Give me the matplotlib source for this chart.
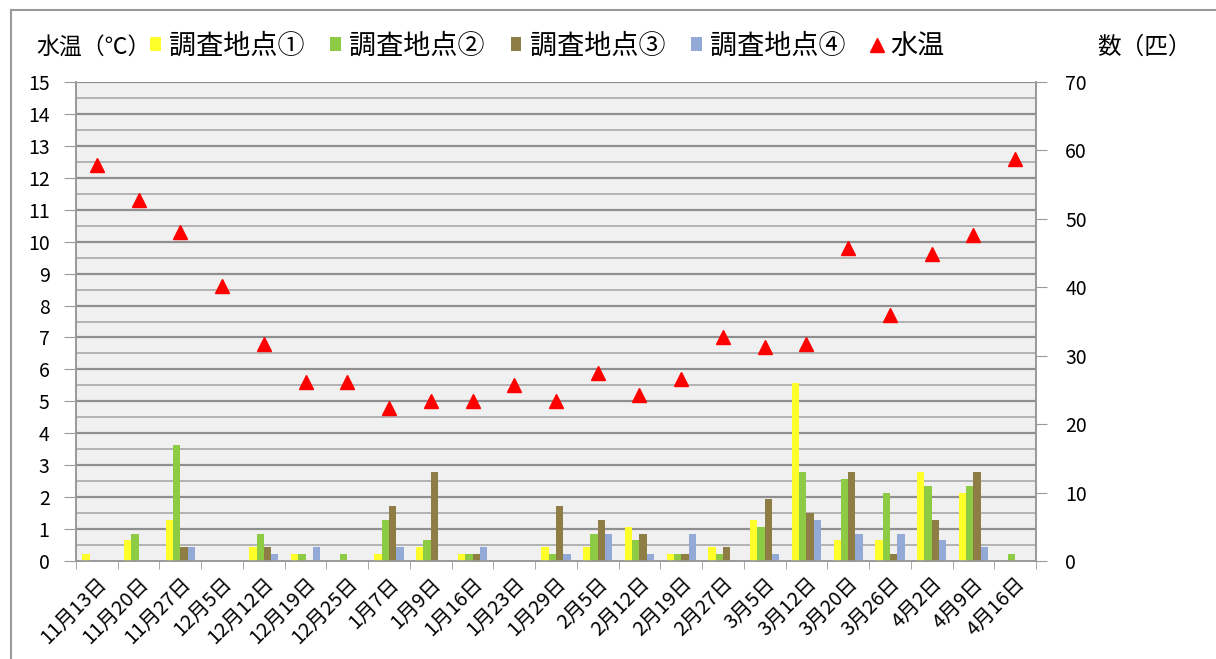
import matplotlib
matplotlib.use("Agg")
import matplotlib.pyplot as plt
import numpy as np
from matplotlib.lines import Line2D
from matplotlib.patches import Patch

plt.rcParams['font.family'] = ['Noto Sans CJK JP', 'DejaVu Sans']

# survey dates
dates = ["11月13日", "11月20日", "11月27日", "12月5日", "12月12日", "12月19日",
         "12月25日", "1月7日", "1月9日", "1月16日", "1月23日", "1月29日",
         "2月5日", "2月12日", "2月19日", "2月27日", "3月5日", "3月12日",
         "3月20日", "3月26日", "4月2日", "4月9日", "4月16日"]

# counts (匹) at each survey point
site1 = [1, 3, 6, 0, 2, 1, 0, 1, 2, 1, 0, 2, 2, 5, 1, 2, 6, 26, 3, 3, 13, 10, 0]
site2 = [0, 4, 17, 0, 4, 1, 1, 6, 3, 1, 0, 1, 4, 3, 1, 1, 5, 13, 12, 10, 11, 11, 1]
site3 = [0, 0, 2, 0, 2, 0, 0, 8, 13, 1, 0, 8, 6, 4, 1, 2, 9, 7, 13, 1, 6, 13, 0]
site4 = [0, 0, 2, 0, 1, 2, 0, 2, 0, 2, 0, 1, 4, 1, 4, 0, 1, 6, 4, 4, 3, 2, 0]

# water temperature (℃)
water_temp = [12.4, 11.3, 10.3, 8.6, 6.8, 5.6, 5.6, 4.8, 5.0, 5.0, 5.5, 5.0,
              5.9, 5.2, 5.7, 7.0, 6.7, 6.8, 9.8, 7.7, 9.6, 10.2, 12.6]

series_names = ["調査地点①", "調査地点②", "調査地点③", "調査地点④"]
series_colors = ["#FFFF2A", "#8DCB45", "#8E7E45", "#94AAD6"]
temp_color = "#FF0000"

fig = plt.figure(figsize=(12.16, 6.59), dpi=100)
fig.patch.set_facecolor("white")

# outer frame
fig.add_artist(plt.Line2D([11/1216, 11/1216], [0, 1 - 10/659], color="#9a9a9a", lw=1.5,
                          transform=fig.transFigure))
fig.add_artist(plt.Line2D([11/1216, 1.0], [1 - 10/659, 1 - 10/659], color="#9a9a9a", lw=1.5,
                          transform=fig.transFigure))

ax = fig.add_axes([76/1216, 1 - 561/659, (1036 - 76)/1216, (561 - 82)/659])
ax2 = ax.twinx()

n = len(dates)
x = np.arange(n)
bw = 0.175
offsets = (np.arange(4) - 1.5) * bw
for vals, col, off in zip([site1, site2, site3, site4], series_colors, offsets):
    ax2.bar(x + off, vals, width=bw, color=col, edgecolor="none", zorder=3)

ax.plot(x, water_temp, linestyle="none", marker="^", markersize=10,
        color=temp_color, markeredgecolor=temp_color, zorder=5)
ax.set_zorder(ax2.get_zorder() + 1)
ax.patch.set_visible(False)
ax2.patch.set_visible(True)
ax2.patch.set_facecolor("#F0F0F0")

ax.set_xlim(-0.5, n - 0.5)
ax.set_ylim(0, 15)
ax2.set_ylim(0, 70)

# gridlines every 0.5 ℃
for v in np.arange(0.5, 15.01, 0.5):
    major = abs(v - round(v)) < 1e-9
    ax2.axhline(v * 70 / 15, color="#8f8f8f" if major else "#a8a8a8",
                lw=1.6 if major else 1.2, zorder=1)

ax.set_yticks(np.arange(0, 16, 1))
ax2.set_yticks(np.arange(0, 71, 10))
ax.set_xticks(x)
ax.set_xticklabels(dates, rotation=45, ha="right", rotation_mode="anchor", fontsize=14.5)
ax.set_xticks(np.arange(-0.5, n, 1), minor=True)
ax.tick_params(axis="x", which="major", length=0, pad=9)
ax.tick_params(axis="x", which="minor", length=6, color="#999999", direction="out")
ax.tick_params(axis="y", labelsize=14, length=9, color="#999999", pad=10)
ax2.tick_params(axis="y", labelsize=14, length=8, color="#999999", pad=13)

for a in (ax, ax2):
    for s in a.spines.values():
        s.set_color("#999999")
        s.set_linewidth(1.2)
    a.spines["top"].set_visible(False)

# axis titles
fig.text(36/1216, 1 - 47/659, "水温（℃）", fontsize=16.5, va="center", ha="left")
fig.text(1097/1216, 1 - 47/659, "数（匹）", fontsize=17, va="center", ha="left")

handles = [Patch(facecolor=c, edgecolor="none") for c in series_colors]
handles.append(Line2D([], [], linestyle="none", marker="^", markersize=10,
                      color=temp_color))
labels = series_names + ["水温"]
fig.legend(handles, labels, loc="center left", bbox_to_anchor=(150/1216, 1 - 46/659),
           ncol=5, frameon=False, fontsize=19.5, handlelength=0.4, handleheight=0.45,
           handletextpad=0.3, columnspacing=0.95, borderaxespad=0, borderpad=0)

fig.savefig("out.png", dpi=100, facecolor="white")
